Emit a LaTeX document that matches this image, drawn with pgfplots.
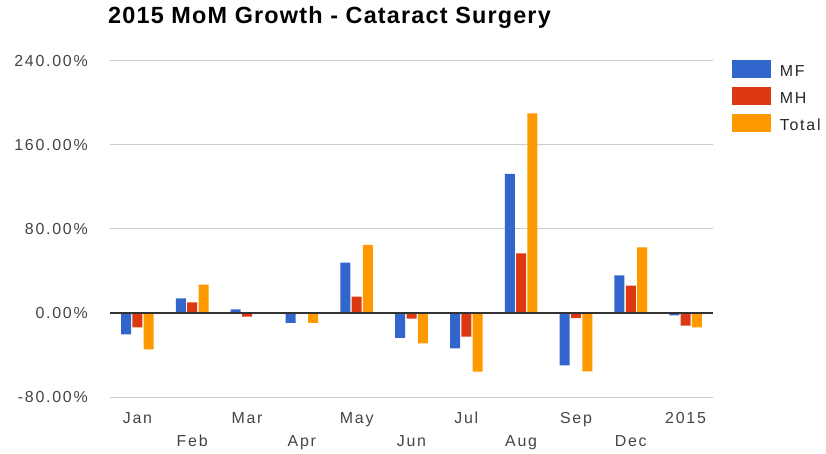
\documentclass[border=0pt]{standalone}
\usepackage{pgfplots}
\pgfplotsset{compat=1.18}
\usepackage{fontspec}
\setmainfont{Liberation Sans}
\newfontfamily\lblfont[LetterSpace=11]{Liberation Sans}
\newfontfamily\ttlfont[LetterSpace=5]{Liberation Sans}
\definecolor{cMF}{HTML}{3366CC}
\definecolor{cMH}{HTML}{DC3912}
\definecolor{cTot}{HTML}{FF9900}
\definecolor{gridc}{HTML}{CCCCCC}
\definecolor{txt}{HTML}{444444}
\pgfplotsset{sqlegend/.style={legend image code/.code={\fill[##1] (0bp,-6.5bp) rectangle (39bp,11.5bp);}}}
\begin{document}
\begin{tikzpicture}
\useasboundingbox (0,0) rectangle (826bp,454bp);
\begin{axis}[
  at={(110bp,57bp)}, anchor=south west,
  scale only axis, width=603bp, height=336bp,
  ybar=1.3bp, bar width=10bp,
  xmin=-0.5, xmax=10.5, ymin=-80, ymax=240,
  axis line style={draw=none},
  major tick length=0pt,
  ytick={-80,0,80,160,240},
  yticklabels={-80.00\%,0.00\%,80.00\%,160.00\%,240.00\%},
  ymajorgrids, grid style={gridc, line width=1bp},
  xtick={0,2,4,6,8,10},
  xticklabels={Jan,Mar,May,Jul,Sep,2015},
  extra x ticks={1,3,5,7,9},
  extra x tick labels={Feb,Apr,Jun,Aug,Dec},
  extra x tick style={xticklabel style={yshift=-23bp}},
  tick label style={font=\lblfont\fontsize{16}{19}\selectfont, text=txt},
  yticklabel style={anchor=east, inner sep=0pt, xshift=-22bp},
  xticklabel style={anchor=north, inner sep=0pt, text height=11.5bp, text depth=3bp, yshift=-15bp},
  title={\ttlfont\fontsize{23.5}{26}\selectfont\bfseries 2015 MoM Growth - Cataract Surgery},
  title style={at={(-0.0033,1.0943)}, anchor=base west, inner sep=0pt},
  legend style={at={(1.031,1.003)}, anchor=north west, draw=none, fill=none, inner sep=0pt,
    font=\lblfont\fontsize{16}{19}\selectfont, text=black!85,
    row sep=9bp, nodes={inner sep=0pt},
    /tikz/every odd column/.append style={column sep=9bp}},
  legend cell align=left,
]
\addplot[draw=none, fill=cMF, sqlegend] coordinates {
  (0,-20.3) (1,14.0) (2,3.5) (3,-9.5) (4,48.0) (5,-23.8) (6,-33.6) (7,132.4) (8,-49.9) (9,35.8) (10,-2.3)};
\addplot[draw=none, fill=cMH, sqlegend] coordinates {
  (0,-13.6) (1,10.2) (2,-3.5) (3,0) (4,15.6) (5,-5.3) (6,-22.5) (7,56.8) (8,-4.8) (9,26.0) (10,-12.1)};
\addplot[draw=none, fill=cTot, sqlegend] coordinates {
  (0,-34.6) (1,27.0) (2,0) (3,-9.5) (4,64.8) (5,-29.0) (6,-55.8) (7,190.0) (8,-55.6) (9,62.5) (10,-13.7)};
\legend{MF,MH,Total}
\draw[black!80, line width=1.3bp] (axis cs:-0.5,0) -- (axis cs:10.5,0);
\end{axis}
\end{tikzpicture}
\end{document}
